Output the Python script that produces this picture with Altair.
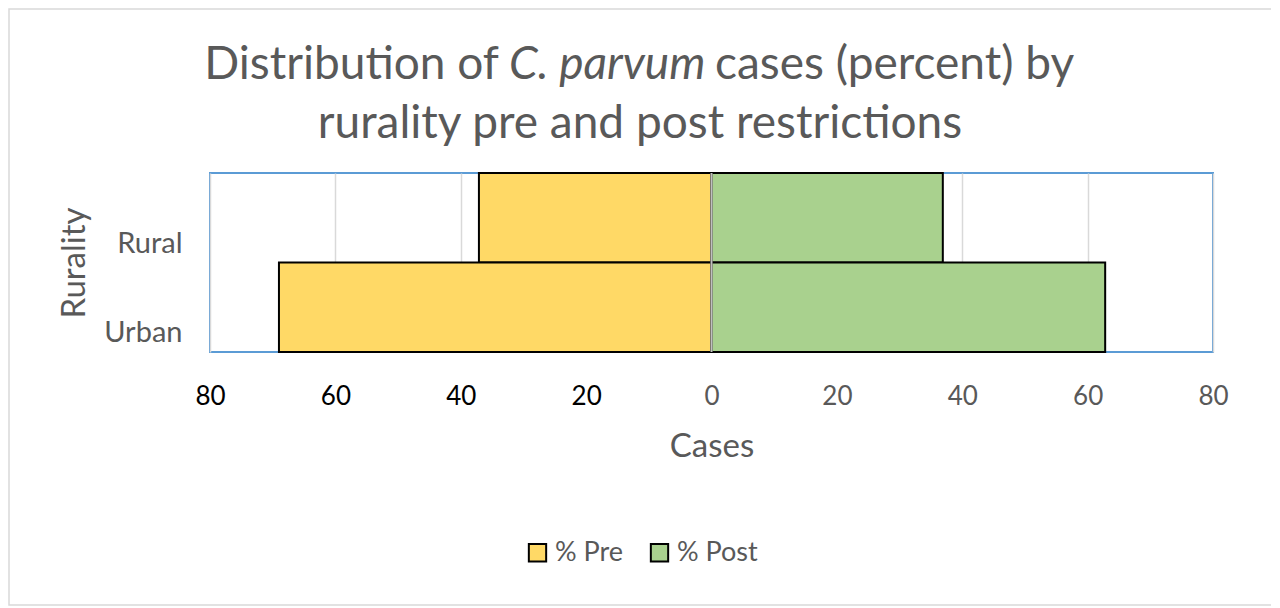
import pandas as pd
import altair as alt

# data
rurality = ["Rural", "Urban"]
pct_pre = [37.1, 69.0]
pct_post = [36.9, 62.8]
series = ["% Pre", "% Post"]
tick_values = [-80, -60, -40, -20, 0, 20, 40, 60, 80]

title_part1 = "Distribution of"
title_italic = "C. parvum"
title_part2 = "cases (percent) by"
title_line2 = "rurality pre and post restrictions"

FONT = "Lato"
GREY = "#595959"

df = pd.DataFrame({
    "Rurality": rurality * 2,
    "Series": [series[0]] * 2 + [series[1]] * 2,
    "Value": pct_pre + pct_post,
})
# pre values go to the left of zero
df["Signed"] = df.apply(lambda r: -r["Value"] if r["Series"] == series[0] else r["Value"], axis=1)

bars = alt.Chart(df).mark_bar(stroke="black", strokeWidth=2).encode(
    x=alt.X("Signed:Q", stack=None,
            scale=alt.Scale(domain=[-80, 80], nice=False),
            axis=alt.Axis(values=tick_values, labelExpr="abs(datum.value)",
                          title="Cases", grid=True, gridColor="#D9D9D9", gridWidth=1.5,
                          ticks=False, domain=False, labelPadding=31, labelFlush=False,
                          labelColor={"condition": {"test": "datum.value < 0", "value": "black"},
                                      "value": GREY},
                          titlePadding=21)),
    y=alt.Y("Rurality:N", sort=rurality,
            scale=alt.Scale(paddingInner=0, paddingOuter=0),
            axis=alt.Axis(title="Rurality", ticks=False, domain=False, labelFontSize=29,
                          labelPadding=28, labelOffset=26, titlePadding=12)),
    color=alt.Color("Series:N",
                    scale=alt.Scale(domain=series, range=["#FFD966", "#A9D18E"]),
                    legend=alt.Legend(title=None, orient="none", direction="horizontal",
                                      legendX=314, legendY=366, symbolType="square",
                                      symbolSize=300, symbolStrokeColor="black",
                                      symbolStrokeWidth=2, columnPadding=22,
                                      labelOffset=4)),
)

zero_line = alt.Chart(pd.DataFrame({"zero": [0]})).mark_rule(
    color="#BFBFBF", strokeWidth=2
).encode(x="zero:Q")

def title_text(text, x, y, align, italic=False):
    return alt.Chart(pd.DataFrame({"t": [text]})).mark_text(
        font=FONT, fontSize=46, color=GREY, align=align, baseline="alphabetic",
        fontStyle="italic" if italic else "normal"
    ).encode(text="t:N", x=alt.value(x), y=alt.value(y))

titles = (
    title_text(title_part1, 289, -94, "right")
    + title_text(title_italic, 299, -94, "left", italic=True)
    + title_text(title_part2, 505, -94, "left")
    + title_text(title_line2, 430, -35, "center")
)

frame = alt.Chart(pd.DataFrame({"f": [0]})).mark_rect(
    fill=None, stroke="#D9D9D9", strokeWidth=1.5
).encode(x=alt.value(-201), x2=alt.value(1067), y=alt.value(-164), y2=alt.value(432))

chart = alt.layer(frame, bars, zero_line, titles).properties(
    width=1003,
    height=179,
    padding={"left": 202, "top": 165, "right": 58, "bottom": 256},
    autosize=alt.AutoSizeParams(type="none"),
    background="white",
).configure_view(
    stroke="#5B9BD5", strokeWidth=2
).configure_axis(
    labelFont=FONT, labelFontSize=26, titleFont=FONT, titleFontSize=33,
    titleColor=GREY, titleFontWeight="normal", labelColor=GREY
).configure_legend(
    labelFont=FONT, labelFontSize=27, labelColor=GREY
)

chart.save("out.html", embed_options={"renderer": "svg", "actions": False})
